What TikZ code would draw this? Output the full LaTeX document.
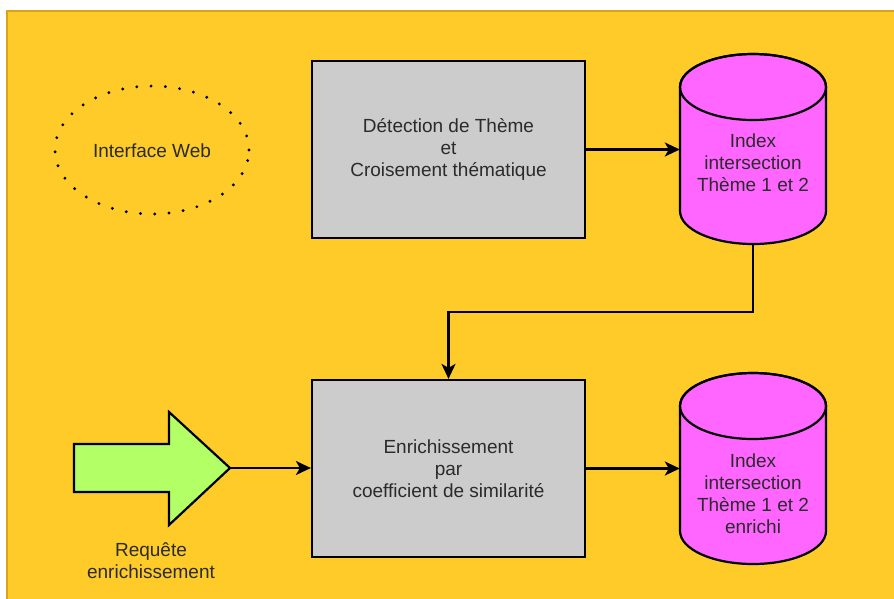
\documentclass[tikz,border=0pt]{standalone}
\usepackage{fontspec}
\setmainfont{Liberation Sans}
\usetikzlibrary{arrows.meta}

\definecolor{bgyellow}{HTML}{FECB29}
\definecolor{bgedge}{HTML}{D9A516}
\definecolor{boxgray}{HTML}{CCCCCC}
\definecolor{dbpink}{HTML}{FF66FF}
\definecolor{reqgreen}{HTML}{B3FF66}
\definecolor{txt}{HTML}{2B2B2B}

\tikzset{
  every node/.style={font=\fontsize{19}{22}\selectfont, text=txt, align=center},
  procbox/.style={draw=black, fill=boxgray, line width=2.2pt, minimum width=273pt,
    minimum height=177pt, inner sep=0pt},
  dbshape/.style={draw=black, fill=dbpink, line width=2.2pt},
  dbarea/.style={minimum width=146pt, minimum height=191pt, inner sep=0pt},
  conn/.style={line width=2.3pt, -{Stealth[length=15pt,width=14pt,inset=4pt]}},
  bigarrow/.style={draw=black, fill=reqgreen, line width=2.2pt, line join=miter},
  dotring/.style={line width=3.2pt, line cap=round, dash pattern=on 0pt off 14.3pt}
}

\begin{document}
\begin{tikzpicture}[x=1pt, y=1pt]
  \useasboundingbox (0,0) rectangle (894,-598);

  % canvas
  \fill[bgyellow] (7,-11) rectangle (900,-610);
  \draw[bgedge, line width=1.5pt] (7,-610) -- (7,-11) -- (900,-11);

  % web interface marker
  \draw[dotring] (152,-150) ellipse [x radius=97, y radius=64];
  \node (web) at (152,-151) {Interface Web};

  % processing steps
  \node[procbox] (detect) at (448.5,-149.5)
    {Détection de Thème\\et\\Croisement thématique};
  \node[procbox] (enrich) at (448.5,-468.5)
    {Enrichissement\\par\\coefficient de similarité};

  % index store (top)
  \filldraw[dbshape] (680,-87) -- (680,-211)
    arc[start angle=180, end angle=360, x radius=73, y radius=33]
    -- (826,-87)
    arc[start angle=0, end angle=180, x radius=73, y radius=33] -- cycle;
  \draw[line width=2.2pt] (753,-87) ellipse [x radius=73, y radius=33];
  \node[dbarea] (idx) at (753,-148.5) {};
  \node (idxtxt) at (753,-163) {Index\\intersection\\Thème 1 et 2};

  % index store (enriched)
  \filldraw[dbshape] (680,-406) -- (680,-531)
    arc[start angle=180, end angle=360, x radius=73, y radius=33]
    -- (826,-406)
    arc[start angle=0, end angle=180, x radius=73, y radius=33] -- cycle;
  \draw[line width=2.2pt] (753,-406) ellipse [x radius=73, y radius=33];
  \node[dbarea] (idxe) at (753,-468.5) {};
  \node (idxetxt) at (753,-494) {Index\\intersection\\Thème 1 et 2\\enrichi};

  % request arrow
  \filldraw[bigarrow] (74,-444) -- (169,-444) -- (169,-412) -- (230,-468)
    -- (169,-525) -- (169,-492) -- (74,-492) -- cycle;
  \coordinate (reqtip) at (230,-468);
  \node (req) at (151,-561) {Requête\\enrichissement};

  % connectors
  \draw[conn] (detect.east) -- (detect.east -| idx.west);
  \draw[conn] (idx.south) -- ++(0,-68) -| (enrich.north);
  \draw[conn] (reqtip) -- (reqtip -| enrich.west);
  \draw[conn] (enrich.east) -- (enrich.east -| idxe.west);
\end{tikzpicture}
\end{document}
